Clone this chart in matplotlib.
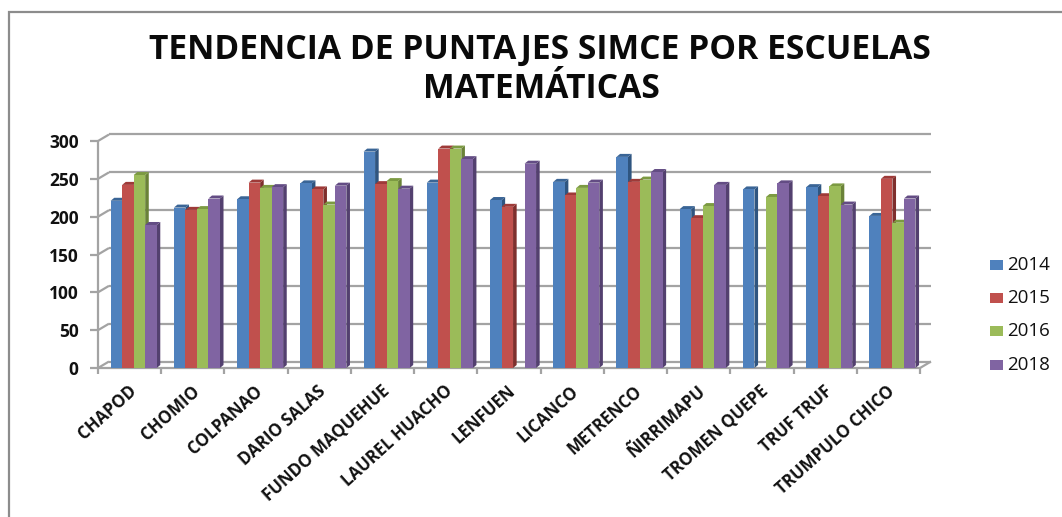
import numpy as np
import matplotlib
matplotlib.use("Agg")
import matplotlib.pyplot as plt
from matplotlib.patches import Polygon, Rectangle
from matplotlib.lines import Line2D

schools = ["CHAPOD","CHOMIO","COLPANAO","DARIO SALAS","FUNDO MAQUEHUE","LAUREL HUACHO","LENFUEN","LICANCO","METRENCO","ÑIRRIMAPU","TROMEN QUEPE","TRUF TRUF","TRUMPULO CHICO"]
v2014 = [221,212,223,244,286,245,222,246,279,210,236,239,201]
v2015 = [242,209,245,236,243,290,213,228,246,198,None,227,250]
v2016 = [255,210,238,216,247,290,None,238,249,214,226,240,192]
v2018 = [189,224,239,241,237,276,270,245,259,242,244,216,224]
years = ["2014","2015","2016","2018"]
series = [v2014,v2015,v2016,v2018]
front = ["#4F81BD","#C0504D","#9BBB59","#8064A2"]
side = ["#2F5580","#7E2F2D","#6A8238","#53406F"]
top = ["#3A6596","#9E3A38","#7C9A42","#634C84"]
yticks = [0,50,100,150,200,250,300]

W,H = 1062,517
fig = plt.figure(figsize=(W/100,H/100),dpi=100,facecolor="white")
fam = ["Open Sans","DejaVu Sans"]
L,R,T,B = 98,920,141,368
ax = fig.add_axes([L/W,1-B/H,(R-L)/W,(B-T)/H])
ax.set_xlim(0,len(schools)); ax.set_ylim(0,300)
ax.patch.set_alpha(0)
for s in ax.spines.values(): s.set_visible(False)
xu = len(schools)/(R-L); yu = 300/(B-T)
dx3,dy3 = 3.6*xu, 3.0*yu
wx,wy = 11*xu, 6.5*yu   # wall depth
g = "#A3A3A3"
kw = dict(color=g,lw=1.6,clip_on=False,solid_capstyle="butt")
for t in yticks:
    ax.plot([0,wx],[t,t+wy],zorder=1,**kw)
    ax.plot([wx,len(schools)+wx],[t+wy,t+wy],zorder=1,**kw)
    ax.plot([-8*xu,0],[t,t],zorder=1,**kw)
ax.plot([0,0],[0,300],zorder=1,**kw)
ax.plot([0,len(schools)],[0,0],zorder=1,**kw)
ax.plot([len(schools),len(schools)+wx],[0,wy],zorder=1,**kw)
for i in range(len(schools)+1):
    ax.plot([i,i],[0,-6*yu],zorder=1,**kw)

bw = 0.182; off = 0.2
for i in range(len(schools)):
    for j,vals in enumerate(series):
        v = vals[i]
        if v is None: continue
        x0 = i+off+j*bw; x1 = x0+bw
        z = 3+j*0.1
        ax.add_patch(Polygon([(x1,0),(x1+dx3,dy3),(x1+dx3,v+dy3),(x1,v)],fc=side[j],ec="none",zorder=z,clip_on=False))
        ax.add_patch(Polygon([(x0,v),(x0+dx3,v+dy3),(x1+dx3,v+dy3),(x1,v)],fc=top[j],ec="none",zorder=z,clip_on=False))
        ax.bar(x0,v,width=bw,align="edge",color=front[j],zorder=z+0.01)

ax.set_yticks(yticks)
ax.tick_params(axis="y",length=0,pad=14)
ax.set_yticklabels([str(t) for t in yticks],fontsize=12.5,fontweight="bold",family=fam,color="#111111")
ax.set_xticks(np.arange(len(schools))+0.47)
ax.tick_params(axis="x",length=0,pad=10)
ax.set_xticklabels(schools,rotation=42,ha="right",rotation_mode="anchor",fontsize=12.2,fontweight="bold",family=fam,color="#111111")

fig.add_artist(Line2D([9/W,9/W,1],[0,1-12/H,1-12/H],transform=fig.transFigure,color="#8C8C8C",lw=1.6,solid_joinstyle="miter"))
fig.text(540/W,1-59/H,"TENDENCIA DE PUNTAJES SIMCE POR ESCUELAS",ha="center",va="baseline",fontsize=24.2,fontweight="bold",family=fam,color="#0A0A0A")
fig.text(541/W,1-98/H,"MATEMÁTICAS",ha="center",va="baseline",fontsize=24.2,fontweight="bold",family=fam,color="#0A0A0A")

for j,y in enumerate(years):
    yp = [265,298,331,365][j]
    fig.add_artist(Rectangle((990/W,1-(yp+5)/H),13/W,10/H,transform=fig.transFigure,fc=front[j],ec="none"))
    fig.text(1007/W,1-yp/H,y,ha="left",va="center",fontsize=13.5,family=fam,color="#111111")
fig.savefig("out.png",dpi=100)
